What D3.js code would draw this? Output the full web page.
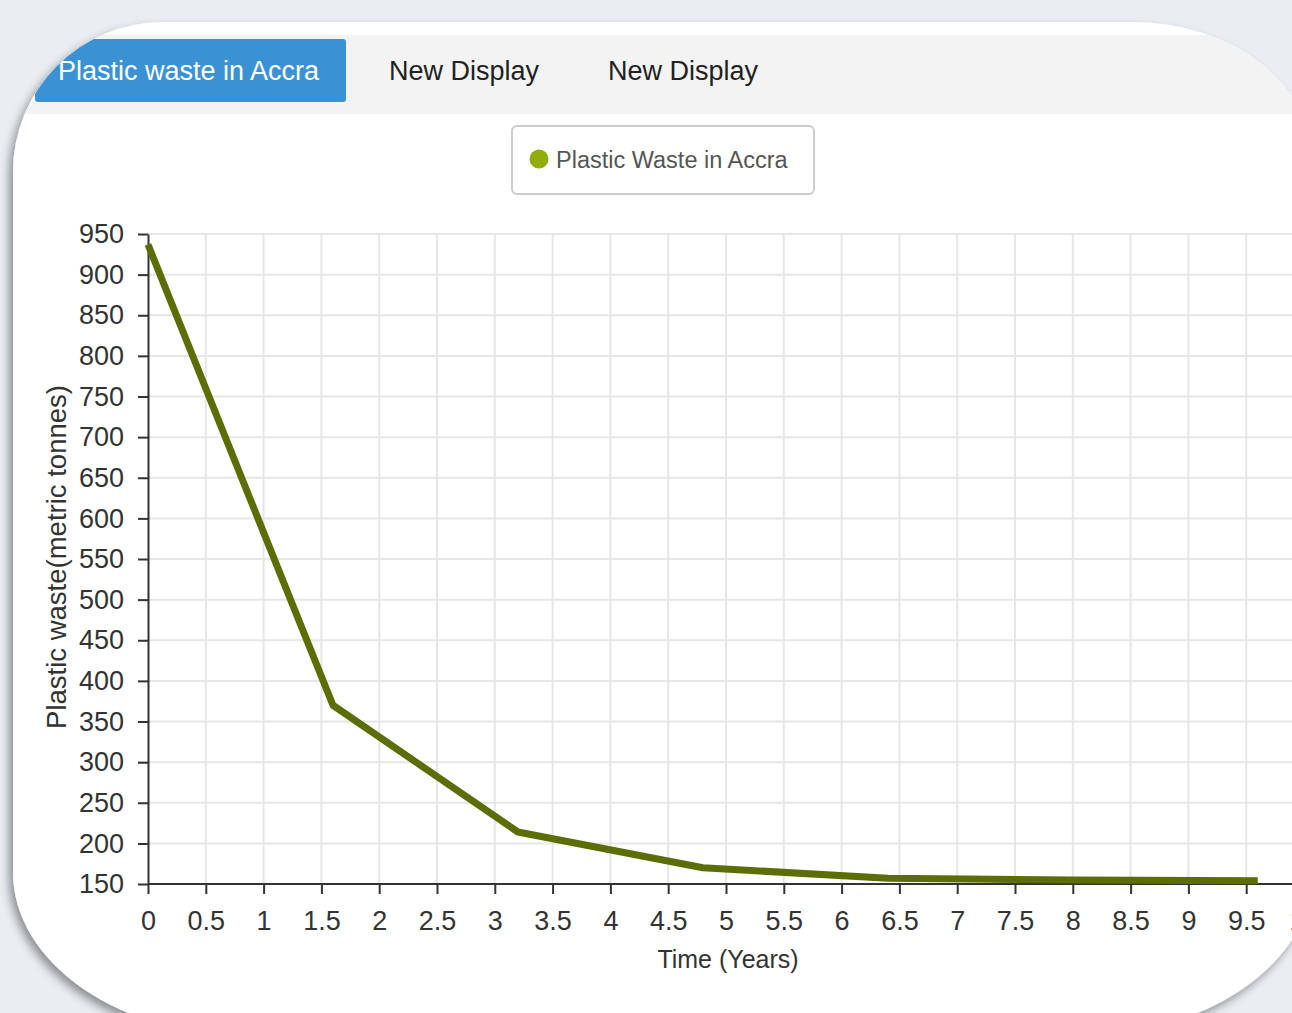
<!DOCTYPE html>
<html>
<head>
<meta charset="utf-8">
<script src="https://cdn.jsdelivr.net/npm/d3@7/dist/d3.min.js"></script>
<style>
  html, body { margin: 0; padding: 0; background: #eaeef3; overflow: hidden; }
  svg { display: block; font-family: "Liberation Sans", Arial, Helvetica, sans-serif; }
</style>
</head>
<body>
<svg id="chart" width="1292" height="1013"></svg>
<script>
// Plastic waste series (metric tonnes) over time (years)
const years = [0, 1.6, 3.2, 4.8, 6.4, 8.0, 9.6];
const waste = [937, 370, 214, 170, 157, 155, 154];

// Axis tick labels
const xTicks = [0, 0.5, 1, 1.5, 2, 2.5, 3, 3.5, 4, 4.5, 5, 5.5, 6, 6.5, 7, 7.5, 8, 8.5, 9, 9.5, 10];
const yTicks = [150, 200, 250, 300, 350, 400, 450, 500, 550, 600, 650, 700, 750, 800, 850, 900, 950];

// Tabs and legend labels
const tabLabels = ["Plastic waste in Accra", "New Display", "New Display"];
const seriesName = "Plastic Waste in Accra";

const W = 1292, H = 1013;
const svg = d3.select("#chart");
const defs = svg.append("defs");

// Card outline: rectangle with large elliptical corners
const card = { x0: 13, y0: 22, x1: 1313, y1: 1037,
  tl: [150, 150], tr: [180, 140], br: [240, 165], bl: [240, 165] };
function cardPath(c) {
  return [
    `M${c.x0 + c.tl[0]},${c.y0}`,
    `L${c.x1 - c.tr[0]},${c.y0}`,
    `A${c.tr[0]},${c.tr[1]} 0 0 1 ${c.x1},${c.y0 + c.tr[1]}`,
    `L${c.x1},${c.y1 - c.br[1]}`,
    `A${c.br[0]},${c.br[1]} 0 0 1 ${c.x1 - c.br[0]},${c.y1}`,
    `L${c.x0 + c.bl[0]},${c.y1}`,
    `A${c.bl[0]},${c.bl[1]} 0 0 1 ${c.x0},${c.y1 - c.bl[1]}`,
    `L${c.x0},${c.y0 + c.tl[1]}`,
    `A${c.tl[0]},${c.tl[1]} 0 0 1 ${c.x0 + c.tl[0]},${c.y0}`,
    "Z"
  ].join(" ");
}

const shadow = defs.append("filter").attr("id", "cardShadow")
  .attr("x", "-10%").attr("y", "-10%").attr("width", "120%").attr("height", "120%");
shadow.append("feDropShadow")
  .attr("dx", -4).attr("dy", 5).attr("stdDeviation", 5)
  .attr("flood-color", "#000").attr("flood-opacity", 0.4);

defs.append("clipPath").attr("id", "cardClip")
  .append("path").attr("d", cardPath(card));

// Page background
svg.append("rect").attr("width", W).attr("height", H).attr("fill", "#eaeef3");

// Card
svg.append("path").attr("d", cardPath(card))
  .attr("fill", "#ffffff").attr("filter", "url(#cardShadow)");

const inner = svg.append("g").attr("clip-path", "url(#cardClip)");

// Tab bar
inner.append("rect").attr("x", 0).attr("y", 35).attr("width", W).attr("height", 79)
  .attr("fill", "#f3f3f3");

const tabX = [35, 389, 608];
inner.append("rect").attr("x", tabX[0]).attr("y", 39).attr("width", 311).attr("height", 63)
  .attr("rx", 3).attr("fill", "#3a92d5");

inner.selectAll("text.tab").data(tabLabels).join("text")
  .attr("class", "tab")
  .attr("x", (d, i) => i === 0 ? 58 : tabX[i])
  .attr("y", 80)
  .attr("font-size", 27)
  .attr("fill", (d, i) => i === 0 ? "#ffffff" : "#222222")
  .text(d => d);

// Legend
const legend = inner.append("g");
legend.append("rect").attr("x", 512).attr("y", 126).attr("width", 302).attr("height", 68)
  .attr("rx", 5).attr("fill", "#ffffff").attr("stroke", "#cccccc").attr("stroke-width", 2);
legend.append("circle").attr("cx", 539).attr("cy", 159).attr("r", 9.5).attr("fill", "#8fae0e");
legend.append("text").attr("x", 556).attr("y", 168).attr("font-size", 23.5)
  .attr("fill", "#555555").text(seriesName);

// Scales
const x = d3.scaleLinear().domain([0, 10]).range([148, 1304]);
const y = d3.scaleLinear().domain([150, 950]).range([884, 234]);

const plot = inner.append("g");

// Grid
plot.append("g").selectAll("line").data(yTicks).join("line")
  .attr("x1", x(0)).attr("x2", W)
  .attr("y1", d => y(d)).attr("y2", d => y(d))
  .attr("stroke", "#e6e6e6").attr("stroke-width", 2);
plot.append("g").selectAll("line").data(xTicks.filter(d => d > 0)).join("line")
  .attr("x1", d => x(d)).attr("x2", d => x(d))
  .attr("y1", y(950)).attr("y2", y(150))
  .attr("stroke", "#e6e6e6").attr("stroke-width", 2);

// Axes
const xAxis = d3.axisBottom(x).tickValues(xTicks).tickSize(10).tickSizeOuter(0)
  .tickFormat(d3.format("~g"));
const gx = plot.append("g").attr("transform", `translate(0,${y(150)})`).call(xAxis);
gx.select(".domain").attr("stroke", "#333").attr("stroke-width", 2)
  .attr("d", `M${x(0)},0H${W}`);
gx.selectAll(".tick line").attr("stroke", "#333").attr("stroke-width", 2);
gx.selectAll(".tick text").attr("font-size", 27).attr("fill", "#333")
  .attr("font-family", "Liberation Sans, Arial, sans-serif").attr("dy", "1.22em");

const yAxis = d3.axisLeft(y).tickValues(yTicks).tickSize(10).tickSizeOuter(0);
const gy = plot.append("g").attr("transform", `translate(${x(0)},0)`).call(yAxis);
gy.select(".domain").attr("stroke", "#333").attr("stroke-width", 2);
gy.selectAll(".tick line").attr("stroke", "#333").attr("stroke-width", 2);
gy.selectAll(".tick text").attr("font-size", 27).attr("fill", "#333")
  .attr("font-family", "Liberation Sans, Arial, sans-serif").attr("x", -24);

// Axis titles
plot.append("text").attr("x", 728).attr("y", 968).attr("text-anchor", "middle")
  .attr("font-size", 25).attr("fill", "#333").text("Time (Years)");
plot.append("text")
  .attr("transform", `translate(66,557) rotate(-90)`)
  .attr("text-anchor", "middle").attr("font-size", 27.5).attr("fill", "#333")
  .text("Plastic waste(metric tonnes)");

// Series line
const line = d3.line().x(d => x(d[0])).y(d => y(d[1]));
plot.append("path")
  .datum(years.map((t, i) => [t, waste[i]]))
  .attr("d", line)
  .attr("fill", "none")
  .attr("stroke", "#5b6e06")
  .attr("stroke-width", 7)
  .attr("stroke-linejoin", "round");
</script>
</body>
</html>
